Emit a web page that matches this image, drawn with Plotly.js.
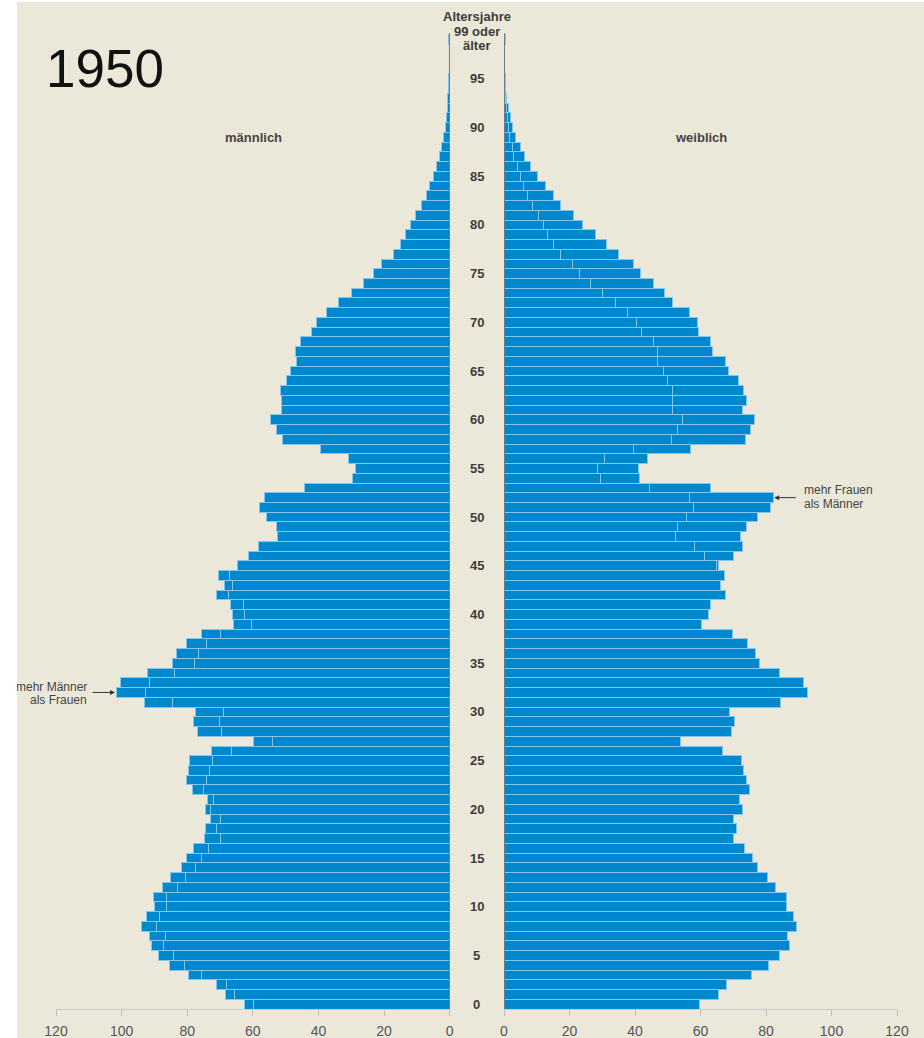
<!DOCTYPE html>
<html>
<head>
<meta charset="utf-8">
<script src="https://cdn.plot.ly/plotly-3.0.1.min.js"></script>
<style>
  html, body { margin: 0; padding: 0; background: #ffffff; }
  #chart { position: absolute; left: 17px; top: 2px; width: 907px; height: 1036px; }
</style>
</head>
<body>
<div id="chart"></div>
<script>
// Age categories (99 = "99 oder älter")
const ages = [0,1,2,3,4,5,6,7,8,9,10,11,12,13,14,15,16,17,18,19,
  20,21,22,23,24,25,26,27,28,29,30,31,32,33,34,35,36,37,38,39,
  40,41,42,43,44,45,46,47,48,49,50,51,52,53,54,55,56,57,58,59,
  60,61,62,63,64,65,66,67,68,69,70,71,72,73,74,75,76,77,78,79,
  80,81,82,83,84,85,86,87,88,89,90,91,92,93,94,95,96,97,98,99];

// Männlich (Tausend)
const male = [62.6,68.3,71.1,79.7,85.4,88.8,90.8,91.6,93.8,92.4,
  90.1,90.4,87.4,85.1,81.7,80.3,78.0,74.6,74.4,72.9,
  74.5,73.8,78.5,80.1,79.6,79.4,72.6,59.9,76.8,78.0,
  77.6,93.0,101.7,100.3,92.0,84.6,83.4,80.1,75.8,65.9,
  66.3,66.7,71.0,68.7,70.6,64.8,61.2,58.2,52.4,52.9,
  55.7,58.0,56.6,44.3,29.5,28.6,30.7,39.4,51.1,52.9,
  54.5,51.3,51.3,51.6,49.8,48.6,46.8,47.0,45.6,42.0,
  40.5,37.6,34.0,30.0,26.4,23.1,20.8,17.2,15.0,13.4,
  12.0,10.5,8.6,7.1,6.1,4.9,4.0,3.0,2.5,1.8,
  1.4,1.0,0.8,0.6,0.4,0.3,0.2,0.1,0.1,0.4];

// Weiblich (Tausend)
const female = [59.8,65.6,68.0,75.7,80.8,84.2,87.1,86.5,89.4,88.5,
  86.4,86.2,83.0,80.4,77.5,75.8,73.4,70.0,71.0,70.0,
  72.9,71.9,74.9,74.0,73.2,72.4,66.6,54.0,69.5,70.3,
  69.0,84.4,92.8,91.4,84.0,77.9,76.7,74.2,69.9,60.3,
  62.5,63.0,67.5,66.2,67.2,65.5,70.0,72.8,72.3,74.0,
  77.4,81.4,82.2,63.2,41.4,41.1,43.7,56.8,73.8,75.2,
  76.5,72.7,73.9,73.2,71.5,68.6,67.5,63.7,62.9,59.5,
  59.1,56.5,51.4,48.9,45.6,41.8,39.5,35.0,31.3,28.0,
  24.0,21.2,17.4,15.0,12.6,10.2,8.0,6.4,5.0,3.6,
  2.5,2.0,1.3,0.8,0.6,0.4,0.3,0.2,0.1,0.5];

const ageTicks = [0,5,10,15,20,25,30,35,40,45,50,55,60,65,70,75,80,85,90,95];
const xTicks = [0,20,40,60,80,100,120];
const headerLines = ['Altersjahre', '99 oder', 'älter'];
const yearLabel = '1950';
const maleLabel = 'männlich';
const femaleLabel = 'weiblich';
const noteMale = ['mehr Männer', 'als Frauen'];
const noteFemale = ['mehr Frauen', 'als Männer'];
const noteMaleAge = 32;
const noteFemaleAge = 52;

// derived segments: common part + surplus over the other sex
const common = male.map((m, i) => Math.min(m, female[i]));
const maleExcess = male.map((m, i) => Math.max(m - female[i], 0));
const femaleExcess = female.map((f, i) => Math.max(f - male[i], 0));

const BLUE = '#0088cf';
const EDGE = '#86c6ec';
const FONT = 'Liberation Sans, Arial, Helvetica, sans-serif';

function barTrace(vals, xa) {
  return {
    type: 'bar', orientation: 'h', x: vals, y: ages, xaxis: xa, yaxis: 'y',
    width: 1,
    marker: { color: BLUE, line: { color: EDGE, width: 1 } },
    hoverinfo: 'skip'
  };
}

const traces = [
  barTrace(common, 'x'), barTrace(maleExcess, 'x'),
  barTrace(common, 'x2'), barTrace(femaleExcess, 'x2')
];

// page-pixel helpers for label placement
const W = 907, PLOT_BOTTOM_PAGE = 1009, PLOT_H = 975;
const fx = p => (p - 17) / W;
const fy = p => (PLOT_BOTTOM_PAGE - p) / PLOT_H;

const annotations = [];
ageTicks.forEach(a => annotations.push({
  xref: 'paper', yref: 'y', x: fx(477), y: a, text: String(a), showarrow: false,
  xanchor: 'center', yanchor: 'middle',
  font: { family: FONT, size: 13, color: '#3c3c3c', weight: 'bold' }
}));
const headerY = [17, 31, 45];
headerLines.forEach((t, i) => annotations.push({
  xref: 'paper', yref: 'paper', x: fx(477), y: fy(headerY[i]), text: '<b>' + t + '</b>',
  showarrow: false, xanchor: 'center', yanchor: 'middle',
  font: { family: FONT, size: 13, color: '#3c3c3c' }
}));
annotations.push({
  xref: 'paper', yref: 'paper', x: fx(44), y: fy(68), text: yearLabel, showarrow: false,
  xanchor: 'left', yanchor: 'middle', font: { family: FONT, size: 53, color: '#111111' }
});
annotations.push({
  xref: 'paper', yref: 'paper', x: fx(253), y: fy(137), text: '<b>' + maleLabel + '</b>',
  showarrow: false, xanchor: 'center', yanchor: 'middle',
  font: { family: FONT, size: 13, color: '#444444' }
});
annotations.push({
  xref: 'paper', yref: 'paper', x: fx(701), y: fy(137), text: '<b>' + femaleLabel + '</b>',
  showarrow: false, xanchor: 'center', yanchor: 'middle',
  font: { family: FONT, size: 13, color: '#444444' }
});
// notes
const noteFont = { family: FONT, size: 12, color: '#444444' };
annotations.push({ xref: 'paper', yref: 'paper', x: fx(89), y: fy(687), text: noteMale[0],
  showarrow: false, xanchor: 'right', yanchor: 'middle', font: noteFont });
annotations.push({ xref: 'paper', yref: 'paper', x: fx(89), y: fy(700), text: noteMale[1],
  showarrow: false, xanchor: 'right', yanchor: 'middle', font: noteFont });
annotations.push({ xref: 'x', yref: 'y', x: male[noteMaleAge], y: noteMaleAge, text: '',
  showarrow: true, ax: -25, ay: 0, arrowhead: 2, arrowsize: 1, arrowwidth: 1,
  arrowcolor: '#333333', standoff: 1 });
annotations.push({ xref: 'paper', yref: 'paper', x: fx(802), y: fy(490.5), text: noteFemale[0],
  showarrow: false, xanchor: 'left', yanchor: 'middle', font: noteFont });
annotations.push({ xref: 'paper', yref: 'paper', x: fx(802), y: fy(503.5), text: noteFemale[1],
  showarrow: false, xanchor: 'left', yanchor: 'middle', font: noteFont });
annotations.push({ xref: 'x2', yref: 'y', x: female[noteFemaleAge], y: noteFemaleAge, text: '',
  showarrow: true, ax: 24, ay: 0, arrowhead: 2, arrowsize: 1, arrowwidth: 1,
  arrowcolor: '#333333', standoff: 1 });

const axisStyle = {
  tickvals: xTicks, ticktext: xTicks.map(String), ticks: 'outside', ticklen: 6,
  tickcolor: '#bdbdbd', tickwidth: 1, showline: true, linecolor: '#c9c9c9', linewidth: 1,
  showgrid: false, zeroline: false, fixedrange: true, ticklabelstandoff: 3,
  tickfont: { family: FONT, size: 14, color: '#555555' }
};

const layout = {
  width: 907, height: 1036,
  margin: { l: 0, r: 0, t: 32, b: 29, pad: 0 },
  paper_bgcolor: '#ece8d9', plot_bgcolor: '#ece8d9',
  showlegend: false, barmode: 'stack', bargap: 0,
  xaxis: Object.assign({}, axisStyle, { domain: [fx(56), fx(449.7)], range: [120, 0], anchor: 'y' }),
  xaxis2: Object.assign({}, axisStyle, { domain: [fx(504), fx(897)], range: [0, 120], anchor: 'y' }),
  yaxis: { range: [-0.5, 99.6], visible: false, fixedrange: true },
  shapes: [
    { type: 'line', xref: 'x', yref: 'paper', x0: 0, x1: 0, y0: 0, y1: fy(33),
      line: { color: '#666666', width: 1.5 }, layer: 'above' },
    { type: 'line', xref: 'x2', yref: 'paper', x0: 0, x1: 0, y0: 0, y1: fy(33),
      line: { color: '#666666', width: 1.5 }, layer: 'above' }
  ],
  annotations: annotations
};

Plotly.newPlot('chart', traces, layout, { displayModeBar: false, staticPlot: true });
</script>
</body>
</html>
